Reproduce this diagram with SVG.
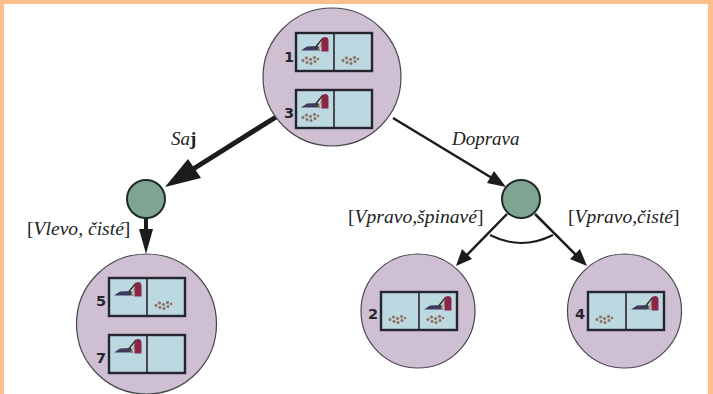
<svg xmlns="http://www.w3.org/2000/svg" width="713" height="394" viewBox="0 0 713 394">
<style>
.state{fill:#cfbfd2;stroke:#4a4650;stroke-width:1.2}
.chance{fill:#7fa592;stroke:#1e2b26;stroke-width:2}
.cell{fill:#bcd8e0;stroke:#25252d;stroke-width:2.4}
.div{stroke:#25252d;stroke-width:1.6;fill:none}
.num{font-family:"DejaVu Sans",sans-serif;font-weight:700;font-size:14.500px;fill:#25252d;text-anchor:middle}
.lab{font-family:"Liberation Serif","Times New Roman",serif;font-style:italic;font-size:19px;fill:#222}
.wide{font-size:19.600px}
.up{font-style:normal}
.conn{stroke:#1c1c1c;fill:none}
.head{fill:#1c1c1c}
</style>
<defs>
<g id="room"><rect class="cell" x="0" y="0" width="76" height="38"/><line class="div" x1="38" y1="0" x2="38" y2="38"/></g>
<g id="vac"><path d="M5 17.500L11 13.500L22 13L24.500 17.500Z" fill="#3d3a5c"/><path d="M20 13.500L27 5" stroke="#2b2b2b" stroke-width="1.300" fill="none"/><path d="M22.500 17L26.500 9" stroke="#b5a860" stroke-width="1.400" fill="none"/><path d="M25.500 18.500L25.500 8Q26.500 4 29 4Q32.500 4 32.500 8L32.500 18.500Z" fill="#8c2548"/></g>
<g id="dirt" fill="#7d7a78" stroke="#f0f0e8" stroke-width=".5"><circle cx="7" cy="27.500" r="2"/><circle cx="10.500" cy="25" r="2"/><circle cx="11" cy="29.500" r="2"/><circle cx="14.500" cy="26.500" r="2"/><circle cx="15" cy="30.500" r="2"/><circle cx="18.500" cy="24.500" r="2"/><circle cx="19" cy="28.500" r="2"/><circle cx="22" cy="26" r="1.800"/></g>
</defs>
<rect width="713" height="394" fill="#fff"/>
<path d="M0 0H713V394H708V4H4V394H0Z" fill="#fdbf8c"/>
<g id="connectors">
<path class="conn" stroke-width="5" d="M276 117L190 171"/>
<polygon class="head" points="165,187 188,159 201,178"/>
<path class="conn" stroke-width="2.500" d="M393 118L492 178"/>
<polygon class="head" points="506,187 487,183 494,171"/>
<path class="conn" stroke-width="4" d="M146 218L146 236"/>
<polygon class="head" points="146,254 139,229 153,229"/>
<path class="conn" stroke-width="2.500" d="M507 214L465 257"/>
<polygon class="head" points="456,266 462,249 472,259"/>
<path class="conn" stroke-width="2.500" d="M535 214L578 257"/>
<polygon class="head" points="587,266 570,259 580,249"/>
<path class="conn" stroke-width="2" d="M490 235Q521 251 553 235"/>
</g>
<g id="node-top">
<circle class="state" cx="332" cy="77" r="69"/>
<use href="#room" x="296" y="33"/><use href="#vac" x="296" y="33"/><use href="#dirt" x="296" y="33"/><use href="#dirt" x="336" y="33"/>
<text class="num" x="289" y="62">1</text>
<use href="#room" x="296" y="90"/><use href="#vac" x="296" y="90"/><use href="#dirt" x="296" y="90"/>
<text class="num" x="289" y="118">3</text>
</g>
<g id="node-left-chance"><circle class="chance" cx="146" cy="199" r="19"/></g>
<g id="node-right-chance"><circle class="chance" cx="521" cy="199" r="19"/></g>
<g id="node-left">
<circle class="state" cx="146.500" cy="324" r="70"/>
<use href="#room" x="109" y="278"/><use href="#vac" x="109" y="278"/><use href="#dirt" x="149" y="278"/>
<text class="num" x="101" y="306">5</text>
<use href="#room" x="109" y="335"/><use href="#vac" x="109" y="335"/>
<text class="num" x="101" y="363">7</text>
</g>
<g id="node-2">
<circle class="state" cx="418" cy="311" r="57"/>
<use href="#room" x="381" y="292"/><use href="#dirt" x="383" y="292"/><use href="#vac" x="419" y="292"/><use href="#dirt" x="421" y="292"/>
<text class="num" x="373" y="319">2</text>
</g>
<g id="node-4">
<circle class="state" cx="624.500" cy="311" r="57"/>
<use href="#room" x="588" y="292"/><use href="#dirt" x="590" y="292"/><use href="#vac" x="626" y="292"/>
<text class="num" x="580" y="319">4</text>
</g>
<g id="labels">
<text class="lab" x="171" y="145">Sa<tspan class="up" font-weight="700">j</tspan></text>
<text class="lab" x="452" y="145">Doprava</text>
<text class="lab wide" x="27" y="235"><tspan class="up">[</tspan>Vlevo, čisté<tspan class="up">]</tspan></text>
<text class="lab wide" x="348" y="223"><tspan class="up">[</tspan>Vpravo,špinavé<tspan class="up">]</tspan></text>
<text class="lab wide" x="568" y="223"><tspan class="up">[</tspan>Vpravo,čisté<tspan class="up">]</tspan></text>
</g>
</svg>
